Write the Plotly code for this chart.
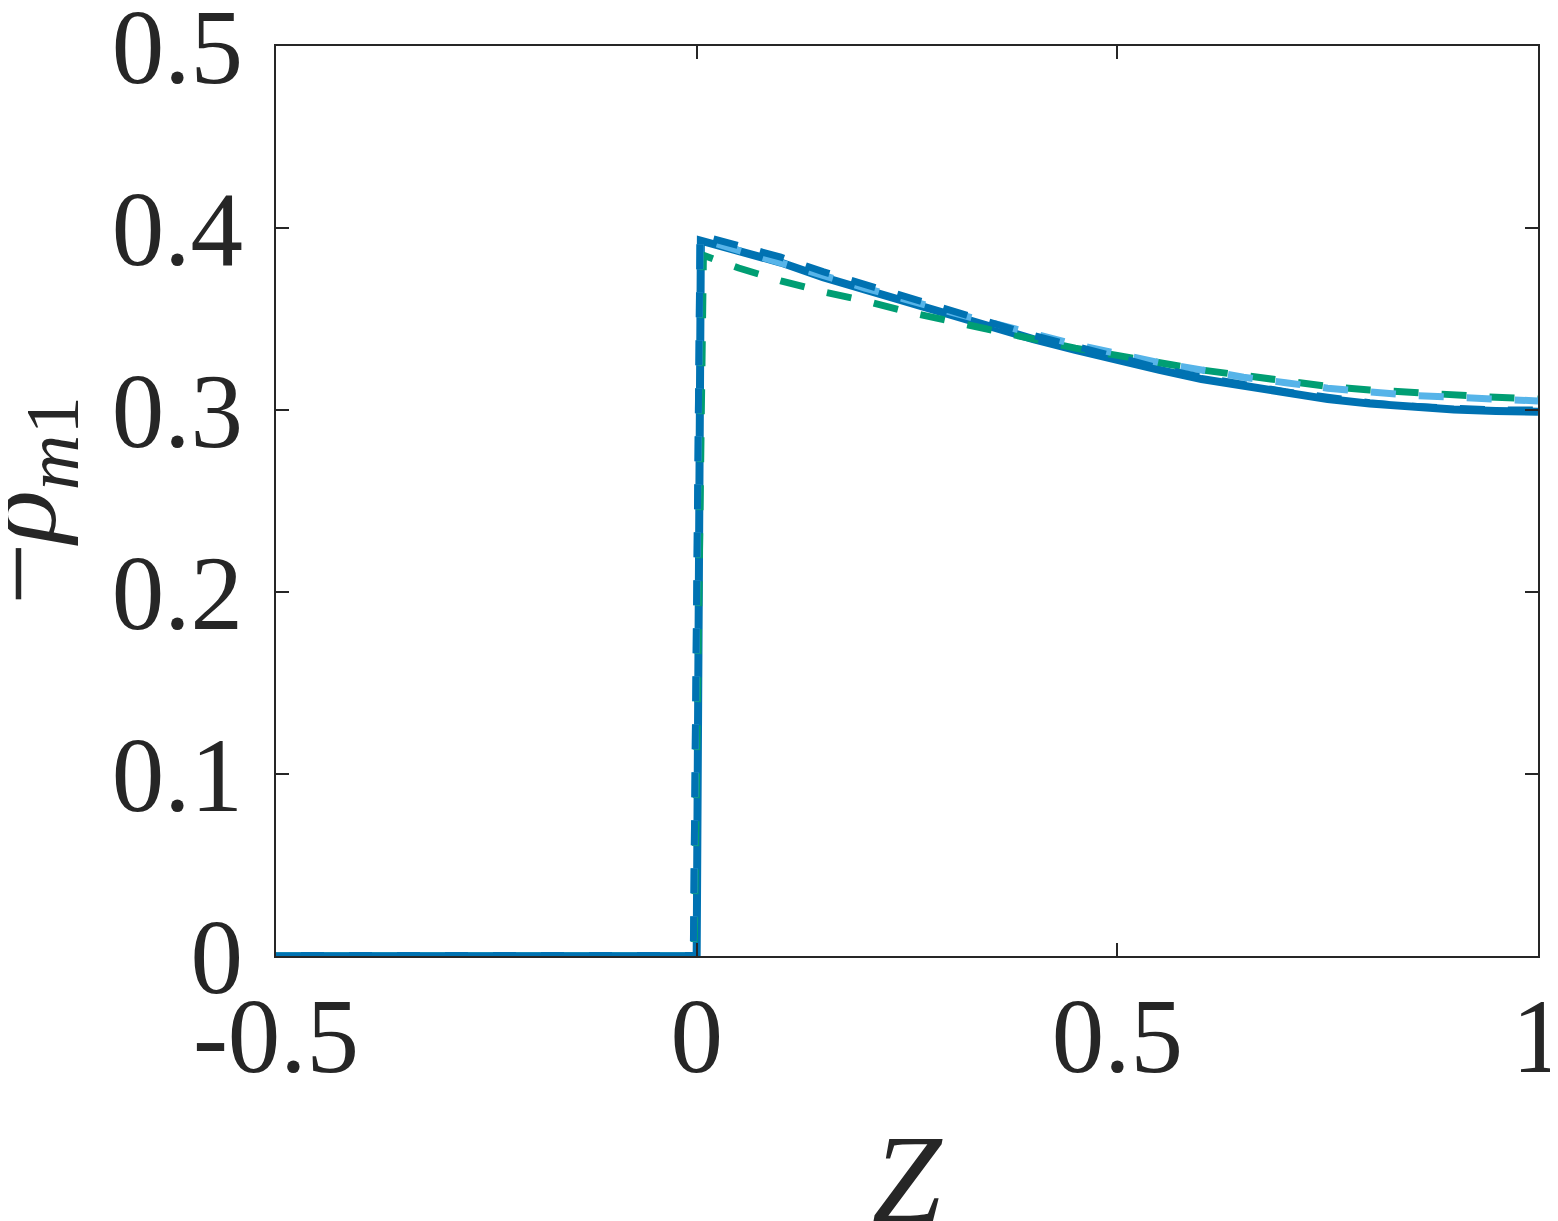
import plotly.graph_objects as go

# Z coordinates and -rho_m1 values
z_solid = [-0.5, 0.0, 0.005, 0.05, 0.1, 0.15, 0.2, 0.25, 0.3, 0.35, 0.4, 0.45, 0.5,
           0.55, 0.6, 0.65, 0.7, 0.75, 0.8, 0.85, 0.9, 0.95, 1.0]
rho_solid = [0.0, 0.0, 0.393, 0.387, 0.381, 0.373, 0.366, 0.359, 0.352, 0.345, 0.339, 0.333, 0.327,
             0.322, 0.317, 0.313, 0.309, 0.306, 0.3035, 0.3015, 0.3003, 0.2995, 0.299]

z_dash = [-0.5, -0.004, 0.004, 0.05, 0.1, 0.15, 0.2, 0.25, 0.3, 0.35, 0.4, 0.45, 0.5,
          0.55, 0.6, 0.65, 0.7, 0.75, 0.8, 0.85, 0.9, 0.95, 1.0]
rho_dark = [0.0, 0.0, 0.396, 0.390, 0.384, 0.376, 0.369, 0.361, 0.354, 0.347, 0.341, 0.335, 0.329,
            0.323, 0.318, 0.314, 0.310, 0.307, 0.304, 0.302, 0.301, 0.300, 0.300]
rho_light = [0.0, 0.0, 0.394, 0.388, 0.381, 0.374, 0.367, 0.360, 0.354, 0.348, 0.342, 0.336, 0.331,
             0.326, 0.322, 0.318, 0.315, 0.312, 0.310, 0.308, 0.307, 0.306, 0.305]

z_green = [-0.5, -0.003, 0.008, 0.05, 0.1, 0.15, 0.2, 0.25, 0.3, 0.35, 0.4, 0.45, 0.5,
           0.55, 0.6, 0.65, 0.7, 0.75, 0.8, 0.85, 0.9, 0.95, 1.0]
rho_green = [0.0, 0.0, 0.385, 0.378, 0.371, 0.365, 0.360, 0.354, 0.349, 0.344, 0.339, 0.334, 0.330,
             0.326, 0.322, 0.319, 0.316, 0.313, 0.311, 0.3095, 0.308, 0.307, 0.306]

x_ticks = [-0.5, 0, 0.5, 1]
x_labels = ["-0.5", "0", "0.5", "1"]
y_ticks = [0, 0.1, 0.2, 0.3, 0.4, 0.5]
y_labels = ["0", "0.1", "0.2", "0.3", "0.4", "0.5"]

BLUE = "#0072B2"
GREEN = "#009E73"
LIGHT = "#56B4E9"
AX = "#262626"
FONT = "Liberation Serif"
DASH = "25px,23px"

fig = go.Figure()
fig.add_trace(go.Scatter(x=z_solid, y=rho_solid, mode="lines",
                         line=dict(color=BLUE, width=8), cliponaxis=False))
fig.add_trace(go.Scatter(x=z_green, y=rho_green, mode="lines",
                         line=dict(color=GREEN, width=7, dash=DASH), cliponaxis=False))
fig.add_trace(go.Scatter(x=z_dash, y=rho_light, mode="lines",
                         line=dict(color=LIGHT, width=7, dash=DASH), cliponaxis=False))
fig.add_trace(go.Scatter(x=z_dash, y=rho_dark, mode="lines",
                         line=dict(color=BLUE, width=7, dash=DASH), cliponaxis=False))

fig.update_layout(
    width=1550, height=1213,
    margin=dict(l=268, r=20, t=38, b=265, autoexpand=False),
    paper_bgcolor="white", plot_bgcolor="white",
    showlegend=False,
    font=dict(family=FONT, color=AX, size=105),
)
fig.update_xaxes(
    range=[-0.5, 1.0000001], tickvals=x_ticks, ticktext=x_labels, automargin=False,
    showgrid=False, zeroline=False, showline=True, linecolor=AX, linewidth=2,
    mirror="ticks", ticks="inside", ticklen=13, tickwidth=2, tickcolor=AX,
    tickfont=dict(family=FONT, size=105, color=AX), ticklabelstandoff=-12,
    ticklabeloverflow="allow",
)
fig.update_yaxes(
    range=[0, 0.5000001], tickvals=y_ticks, ticktext=y_labels, automargin=False,
    showgrid=False, zeroline=False, showline=True, linecolor=AX, linewidth=2,
    mirror="ticks", ticks="inside", ticklen=13, tickwidth=2, tickcolor=AX,
    tickfont=dict(family=FONT, size=105, color=AX), ticklabelstandoff=10,
    ticklabeloverflow="allow",
)

fig.add_annotation(text="<i>Z</i>", xref="paper", yref="paper", x=0.5, y=0,
                   xanchor="center", yanchor="top", yshift=-152, showarrow=False,
                   font=dict(family=FONT, size=125, color=AX))
fig.add_annotation(text="−<i>ρ</i><sub><i>m</i>1</sub>", xref="paper", yref="paper",
                   x=0, y=0.5, xanchor="center", yanchor="middle", xshift=-250,
                   textangle=-90, showarrow=False,
                   font=dict(family=FONT, size=110, color=AX))

fig.write_html("out.html")
